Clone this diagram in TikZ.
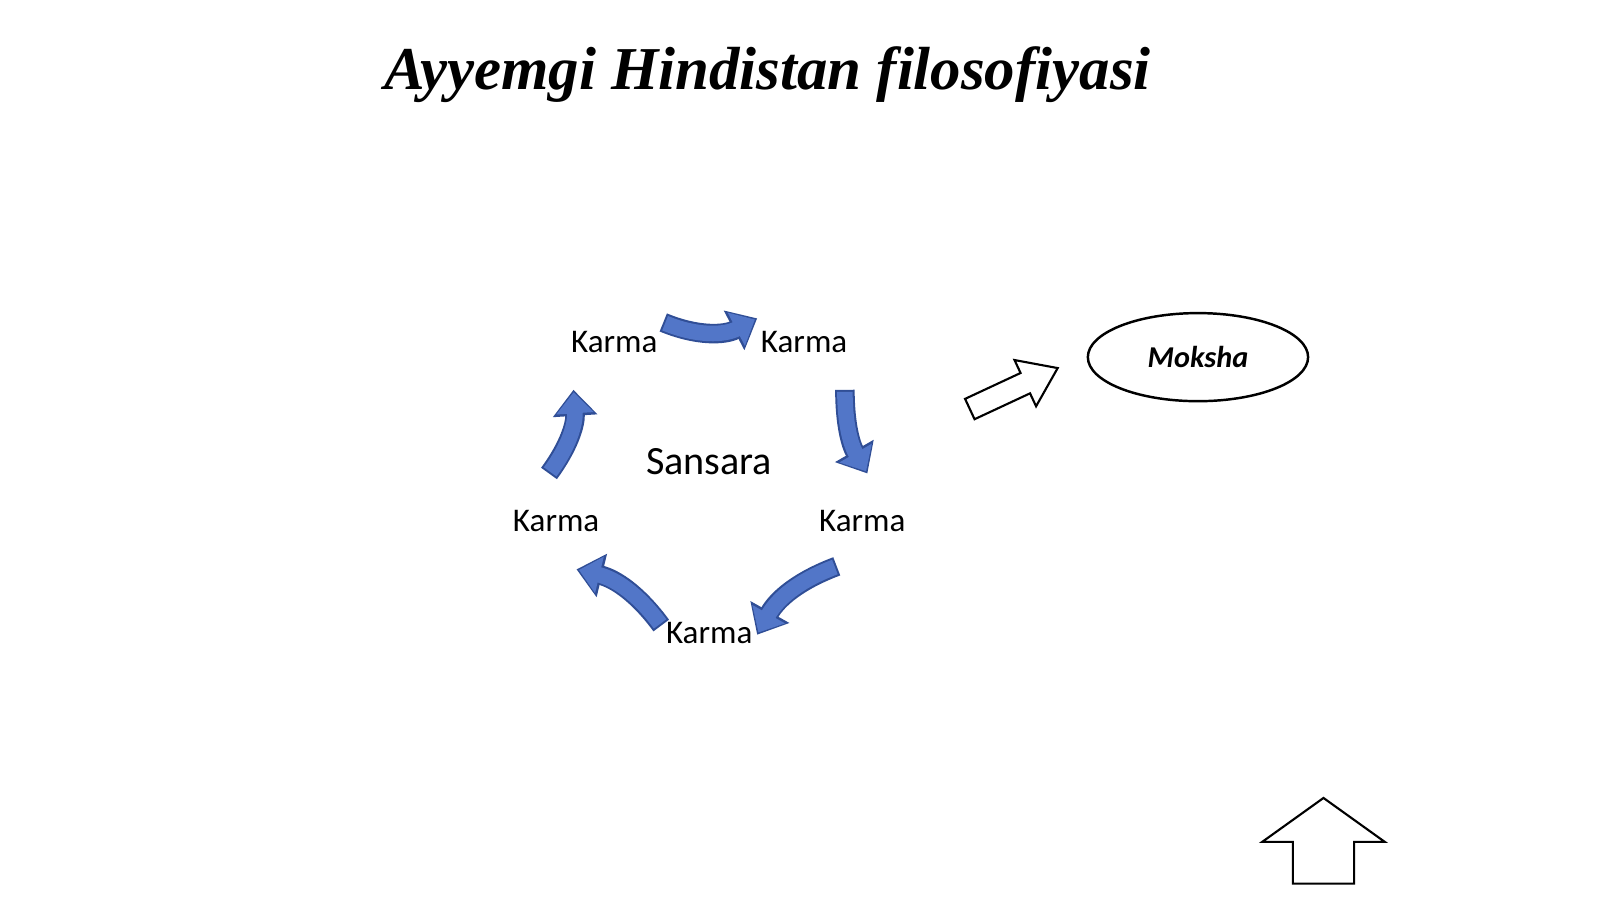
\documentclass[tikz,border=0pt]{standalone}
\usepackage{fontspec}
\setmainfont{Liberation Serif}
\newfontfamily\karmafont{Carlito}
\usetikzlibrary{arrows.meta,shapes.geometric,positioning}
\definecolor{cycleblue}{RGB}{82,118,200}
\definecolor{cycleedge}{RGB}{48,78,150}
\tikzset{
  karma/.style={font=\karmafont\fontsize{9.4}{11}\selectfont},
  cycle arrow/.style={draw=cycleedge, line width=1.95mm,
    -{Triangle[width=4.3mm,length=2.6mm]}},
  cycle fill/.style={draw=cycleblue, line width=1.55mm,
    -{Triangle[width=3.6mm,length=2.1mm]}},
  hollow/.style={draw, fill=white, line width=0.6pt, line join=miter}
}
\begin{document}
\begin{tikzpicture}[x=0.0102cm,y=-0.0102cm]
  \useasboundingbox (0,0) rectangle (1568,881);
  \node (title) at (752,73) {\fontsize{17.3}{20}\selectfont\bfseries\itshape Ayyemgi Hindistan filosofiyasi};
  \node[font=\karmafont\fontsize{11.4}{13}\selectfont] (sansara) at (695,452) {Sansara};
  \node[karma] (k1) at (602,335) {Karma};
  \node[karma] (k2) at (788,335) {Karma};
  \node[karma] (k3) at (845,511) {Karma};
  \node[karma] (k4) at (695,620) {Karma};
  \node[karma] (k5) at (545,511) {Karma};
  % cycle arrows
  \coordinate (a1) at (650,316); \coordinate (b1) at (742,312);
  \coordinate (a2) at (828,382); \coordinate (b2) at (850,464);
  \coordinate (a3) at (820,555); \coordinate (b3) at (742,622);
  \coordinate (a4) at (648,613); \coordinate (b4) at (565,558);
  \coordinate (a5) at (538,464); \coordinate (b5) at (562,382);
  \foreach \i/\b in {1/-25,2/-15,3/-20,4/-20,5/-20}{
    \draw[cycle arrow] (a\i) to[bend left=\b] (b\i);
  }
  \foreach \i/\b in {1/-25,2/-15,3/-20,4/-20,5/-20}{
    \draw[cycle fill, shorten >=0.25mm, shorten <=0.2mm] (a\i) to[bend left=\b] (b\i);
  }
  % moksha
  \node[draw, ellipse, line width=0.7pt, minimum width=2.2cm, minimum height=0.88cm,
        font=\karmafont\bfseries\itshape\fontsize{8.6}{10}\selectfont] (moksha) at (1174,350) {Moksha};
  % hollow arrows
  \begin{scope}[shift={(993,381)}, rotate=25]
    \draw[hollow] (-47,-11) -- (13,-11) -- (13,-25) -- (48,0) -- (13,25) -- (13,11) -- (-47,11) -- cycle;
  \end{scope}
  \draw[hollow] (1297,782) -- (1357,825) -- (1327,825) -- (1327,866) -- (1267,866) -- (1267,825) -- (1237,825) -- cycle;
\end{tikzpicture}
\end{document}
